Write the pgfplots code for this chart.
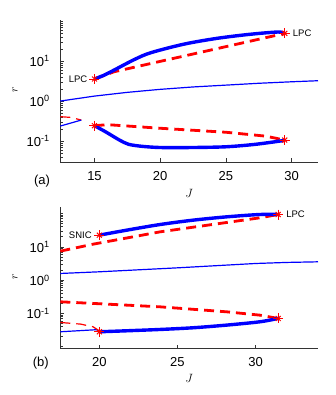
\documentclass[border=0pt]{standalone}
\usepackage{fontspec}
\setmainfont{Liberation Sans}
\usepackage{pgfplots}
\pgfplotsset{compat=1.18}

\definecolor{mblue}{rgb}{0,0,1}
\definecolor{mred}{rgb}{1,0,0}

\pgfplotsset{
  thickb/.style={mblue, line width=3.4pt},
  thinb/.style={mblue, line width=1.2pt},
  thickr/.style={mred, line width=2.8pt, dash pattern=on 10pt off 6pt},
  thinr/.style={mred, line width=1.2pt, dash pattern=on 10pt off 6pt},
  starp/.style={only marks, mred, mark=+, mark size=5pt, line width=1pt},
  starx/.style={only marks, mred, mark=x, mark size=3.5pt, line width=1pt},
}
\tikzset{lbl/.style={font=\fontsize{9.5}{11}\selectfont, inner sep=0pt}}

\begin{document}
\begin{tikzpicture}
\path[use as bounding box] (0,0) rectangle (335pt,395pt);

% (a)
\begin{axis}[at={(60.3pt,233pt)}, anchor=south west,
    scale only axis, width=257.7pt, height=142pt,
    ymode=log,
    axis x line*=bottom, axis y line*=left,
    xmin=12.4, xmax=32, ymin=0.03, ymax=106,
    xtick={15,20,25,30},
    ytick={0.1,1,10},
    yticklabels={10\textsuperscript{-1},10\textsuperscript{0},10\textsuperscript{1}},
    minor ytick={0.04,0.05,0.06,0.07,0.08,0.09,0.2,0.3,0.4,0.5,0.6,0.7,0.8,0.9,2,3,4,5,6,7,8,9,20,30,40,50,60,70,80,90,100},
    tick align=inside,
    major tick length=3.5pt, minor tick length=2.5pt,
    every tick/.style={black!80, line width=0.6pt},
    axis line style={black!80, line width=0.7pt},
    tick label style={font=\fontsize{13}{15}\selectfont},
    xticklabel style={yshift=-6pt},
    yticklabel style={xshift=-7pt},
    /pgf/number format/assume math mode=true,
    xlabel={$J$}, ylabel={$r$},
    label style={font=\fontsize{13}{15}\selectfont},
    xlabel style={at={(axis description cs:0.5,-0.218)}, anchor=center},
    ylabel style={at={(axis description cs:-0.176,0.507)}, anchor=center},
    clip=false,
]
\addplot[thinb] coordinates {(12.4,1.0) (15,1.33) (17.5,1.65) (20,1.96) (22.5,2.25) (25,2.5) (27.5,2.78) (30,3.03) (32,3.22)};
\addplot[thickr] coordinates {(15,3.55) (16.5,5.4) (20,9.8) (25,22.9) (29.47,49)};
\addplot[thickb, smooth, tension=0.5] coordinates {(15,3.55) (15.76,4.47) (16.5,5.96) (18.05,10.96) (19.3,16.2) (21.85,26.6) (24.4,37.2) (26.9,46.8) (28.96,53.1) (29.47,49)};
\addplot[thickr] coordinates {(15,0.242) (16,0.257) (20,0.209) (25,0.166) (28,0.133) (29.47,0.106)};
\addplot[thickb, smooth, tension=0.5] coordinates {(15,0.242) (15.85,0.17) (16.9,0.106) (17.6,0.083) (18.6,0.074) (20,0.069) (22.4,0.069) (25,0.072) (27.25,0.083) (29.47,0.104)};
\addplot[thinr] coordinates {(12.4,0.407) (13.2,0.39) (14.0,0.335)};
\addplot[thinb] coordinates {(12.4,0.237) (14.0,0.335)};
\addplot[starp] coordinates {(15,3.55) (29.47,49) (15,0.242) (29.47,0.106)};
\addplot[starx] coordinates {(15,3.55) (29.47,49) (15,0.242) (29.47,0.106)};
\node[lbl, anchor=east] at (axis cs:15,3.55) [xshift=-7pt] {LPC};
\node[lbl, anchor=west] at (axis cs:29.47,49) [xshift=8pt] {LPC};
\node[font=\fontsize{13}{15}\selectfont] at (axis description cs:-0.071,-0.132) {(a)};
\end{axis}

% (b)
\begin{axis}[at={(60.3pt,46.7pt)}, anchor=south west,
    scale only axis, width=257.7pt, height=141.6pt,
    ymode=log,
    axis x line*=bottom, axis y line*=left,
    xmin=17.5, xmax=34, ymin=0.009, ymax=160,
    xtick={20,25,30},
    ytick={0.1,1,10},
    yticklabels={10\textsuperscript{-1},10\textsuperscript{0},10\textsuperscript{1}},
    minor ytick={0.01,0.02,0.03,0.04,0.05,0.06,0.07,0.08,0.09,0.2,0.3,0.4,0.5,0.6,0.7,0.8,0.9,2,3,4,5,6,7,8,9,20,30,40,50,60,70,80,90,100},
    tick align=inside,
    major tick length=3.5pt, minor tick length=2.5pt,
    every tick/.style={black!80, line width=0.6pt},
    axis line style={black!80, line width=0.7pt},
    tick label style={font=\fontsize{13}{15}\selectfont},
    xticklabel style={yshift=-6pt},
    yticklabel style={xshift=-7pt},
    /pgf/number format/assume math mode=true,
    xlabel={$J$}, ylabel={$r$},
    label style={font=\fontsize{13}{15}\selectfont},
    xlabel style={at={(axis description cs:0.5,-0.21)}, anchor=center},
    ylabel style={at={(axis description cs:-0.176,0.506)}, anchor=center},
    clip=false,
]
\addplot[thinb] coordinates {(17.5,1.585) (20,1.78) (25,2.34) (30,3.16) (32,3.4) (34,3.55)};
\addplot[thickr] coordinates {(17.5,7.41) (19.6,12.0) (23.9,28.2) (28.15,53.7) (30.27,74.1) (31.45,93.3)};
\addplot[thickb, smooth, tension=0.5] coordinates {(20,22.4) (21.75,31.6) (23.9,46.8) (26,63.1) (28.15,79.4) (30.27,93.3) (31.45,93.3)};
\addplot[thickr] coordinates {(17.5,0.224) (19.6,0.2) (23.9,0.158) (28.15,0.112) (30.27,0.089) (31.45,0.0708)};
\addplot[thickb, smooth, tension=0.5] coordinates {(20,0.0282) (21.75,0.0302) (23.9,0.0331) (26,0.0372) (28.15,0.0447) (30.27,0.0562) (31.45,0.0708)};
\addplot[thinb] coordinates {(17.5,0.0282) (19.8,0.0325) (20,0.0300)};
\addplot[thinr] coordinates {(17.5,0.0537) (18.8,0.0479) (19.6,0.0398) (20,0.0300)};
\addplot[starp] coordinates {(20,22.4) (31.45,93.3) (20,0.0282) (31.45,0.0708)};
\addplot[starx] coordinates {(20,22.4) (31.45,93.3) (20,0.0282) (31.45,0.0708)};
\node[lbl, anchor=east] at (axis cs:20,22.4) [xshift=-7.5pt] {SNIC};
\node[lbl, anchor=west] at (axis cs:31.45,93.3) [xshift=8pt] {LPC};
\node[font=\fontsize{13}{15}\selectfont] at (axis description cs:-0.076,-0.106) {(b)};
\end{axis}
\end{tikzpicture}
\end{document}
